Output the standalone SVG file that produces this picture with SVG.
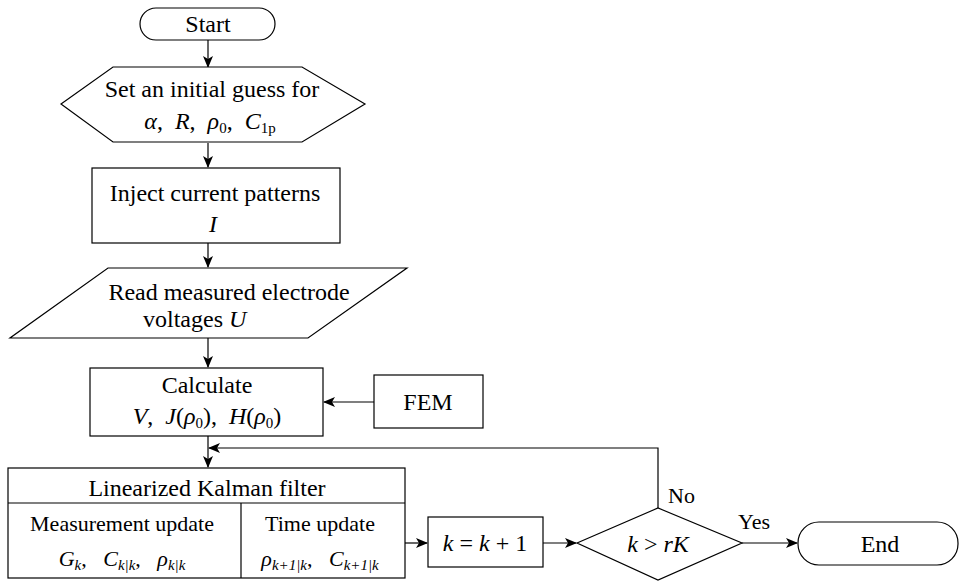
<svg xmlns="http://www.w3.org/2000/svg" width="967" height="584" viewBox="0 0 967 584">
<style>
.s{fill:#fff;stroke:#000;stroke-width:1.2}
.l{fill:none;stroke:#000;stroke-width:1.2}
text{font-family:'Liberation Serif','DejaVu Serif',serif;font-size:24px;fill:#000}
.c{text-anchor:middle}
.i{font-style:italic}
.sub{font-size:15px}
.m{font-size:22px}
</style>
<defs>
<marker id="ah" markerWidth="12" markerHeight="10" refX="11" refY="5" orient="auto" markerUnits="userSpaceOnUse">
<path d="M0,0 L12,5 L0,10 L3,5 Z" fill="#000"/>
</marker>
</defs>
<rect width="967" height="584" fill="#fff"/>
<g id="connectors">
<line class="l" x1="208" y1="40" x2="208" y2="67" marker-end="url(#ah)"/>
<line class="l" x1="208" y1="143" x2="208" y2="167" marker-end="url(#ah)"/>
<line class="l" x1="208" y1="243" x2="208" y2="267" marker-end="url(#ah)"/>
<line class="l" x1="208" y1="338" x2="208" y2="367" marker-end="url(#ah)"/>
<line class="l" x1="374" y1="402" x2="324" y2="402" marker-end="url(#ah)"/>
<line class="l" x1="208" y1="436" x2="208" y2="467" marker-end="url(#ah)"/>
<polyline class="l" points="658,508 658,448 209,448" marker-end="url(#ah)"/>
<line class="l" x1="225" y1="543" x2="264" y2="543" marker-end="url(#ah)"/>
<line class="l" x1="405" y1="543" x2="427" y2="543" marker-end="url(#ah)"/>
<line class="l" x1="543" y1="543" x2="576" y2="543" marker-end="url(#ah)"/>
<line class="l" x1="742" y1="543" x2="797" y2="543" marker-end="url(#ah)"/>
</g>
<g id="start">
<rect class="s" x="140" y="8" width="135" height="32" rx="16"/>
<text class="c" x="208" y="32">Start</text>
</g>
<g id="init">
<polygon class="s" points="113,67 302,67 365,104 302,142 113,142 61,104"/>
<text class="c" x="212" y="97">Set an initial guess for</text>
<text class="c" x="210" y="129" xml:space="preserve"><tspan class="i">α</tspan>,  <tspan class="i">R</tspan>,  <tspan class="i">ρ</tspan><tspan class="sub" dy="4">0</tspan><tspan dy="-4">,  </tspan><tspan class="i">C</tspan><tspan class="sub" dy="4">1p</tspan></text>
</g>
<g id="inject">
<rect class="s" x="92" y="168" width="248" height="75"/>
<text class="c" x="215" y="201">Inject current patterns</text>
<text class="c i" x="213" y="232">I</text>
</g>
<g id="read">
<polygon class="s" points="108,268 407,268 308,338 10,338"/>
<text class="c" x="229" y="300">Read measured electrode</text>
<text x="143" y="327" xml:space="preserve">voltages <tspan class="i">U</tspan></text>
</g>
<g id="calc">
<rect class="s" x="90" y="368" width="233" height="68"/>
<text class="c" x="207" y="393">Calculate</text>
<text class="c" x="207" y="424" xml:space="preserve"><tspan class="i">V</tspan>,  <tspan class="i">J</tspan>(<tspan class="i">ρ</tspan><tspan class="sub" dy="4">0</tspan><tspan dy="-4">),  </tspan><tspan class="i">H</tspan>(<tspan class="i">ρ</tspan><tspan class="sub" dy="4">0</tspan><tspan dy="-4">)</tspan></text>
</g>
<g id="fem">
<rect class="s" x="374" y="375" width="109" height="53"/>
<text class="c" x="428" y="410">FEM</text>
</g>
<g id="kalman">
<rect class="s" x="8" y="468" width="397" height="110"/>
<line class="l" x1="8" y1="503" x2="405" y2="503"/>
<line class="l" x1="241" y1="503" x2="241" y2="578"/>
<text class="c" x="207" y="496">Linearized Kalman filter</text>
<text class="c m" x="122" y="531">Measurement update</text>
<text class="c m" x="122" y="566" xml:space="preserve"><tspan class="i">G</tspan><tspan class="sub i" dy="4">k</tspan><tspan dy="-4">,   </tspan><tspan class="i">C</tspan><tspan class="sub i" dy="4">k|k</tspan><tspan dy="-4">,   </tspan><tspan class="i">ρ</tspan><tspan class="sub i" dy="4">k|k</tspan></text>
<text class="c m" x="320" y="531">Time update</text>
<text class="c m" x="320" y="566" xml:space="preserve"><tspan class="i">ρ</tspan><tspan class="sub i" dy="4">k+1|k</tspan><tspan dy="-4">,   </tspan><tspan class="i">C</tspan><tspan class="sub i" dy="4">k+1|k</tspan></text>
</g>
<g id="incr">
<rect class="s" x="428" y="517" width="115" height="50"/>
<text class="c" x="485" y="551" xml:space="preserve"><tspan class="i">k</tspan> = <tspan class="i">k</tspan> + 1</text>
</g>
<g id="decision">
<polygon class="s" points="577,543 658,508 742,543 658,580"/>
<text class="c" x="658" y="552" xml:space="preserve"><tspan class="i">k</tspan> &gt; <tspan class="i">rK</tspan></text>
<text class="m" x="668" y="503">No</text>
<text class="m" x="738" y="529">Yes</text>
</g>
<g id="end">
<rect class="s" x="798" y="522" width="160" height="43" rx="21"/>
<text class="c" x="880" y="552">End</text>
</g>
</svg>
